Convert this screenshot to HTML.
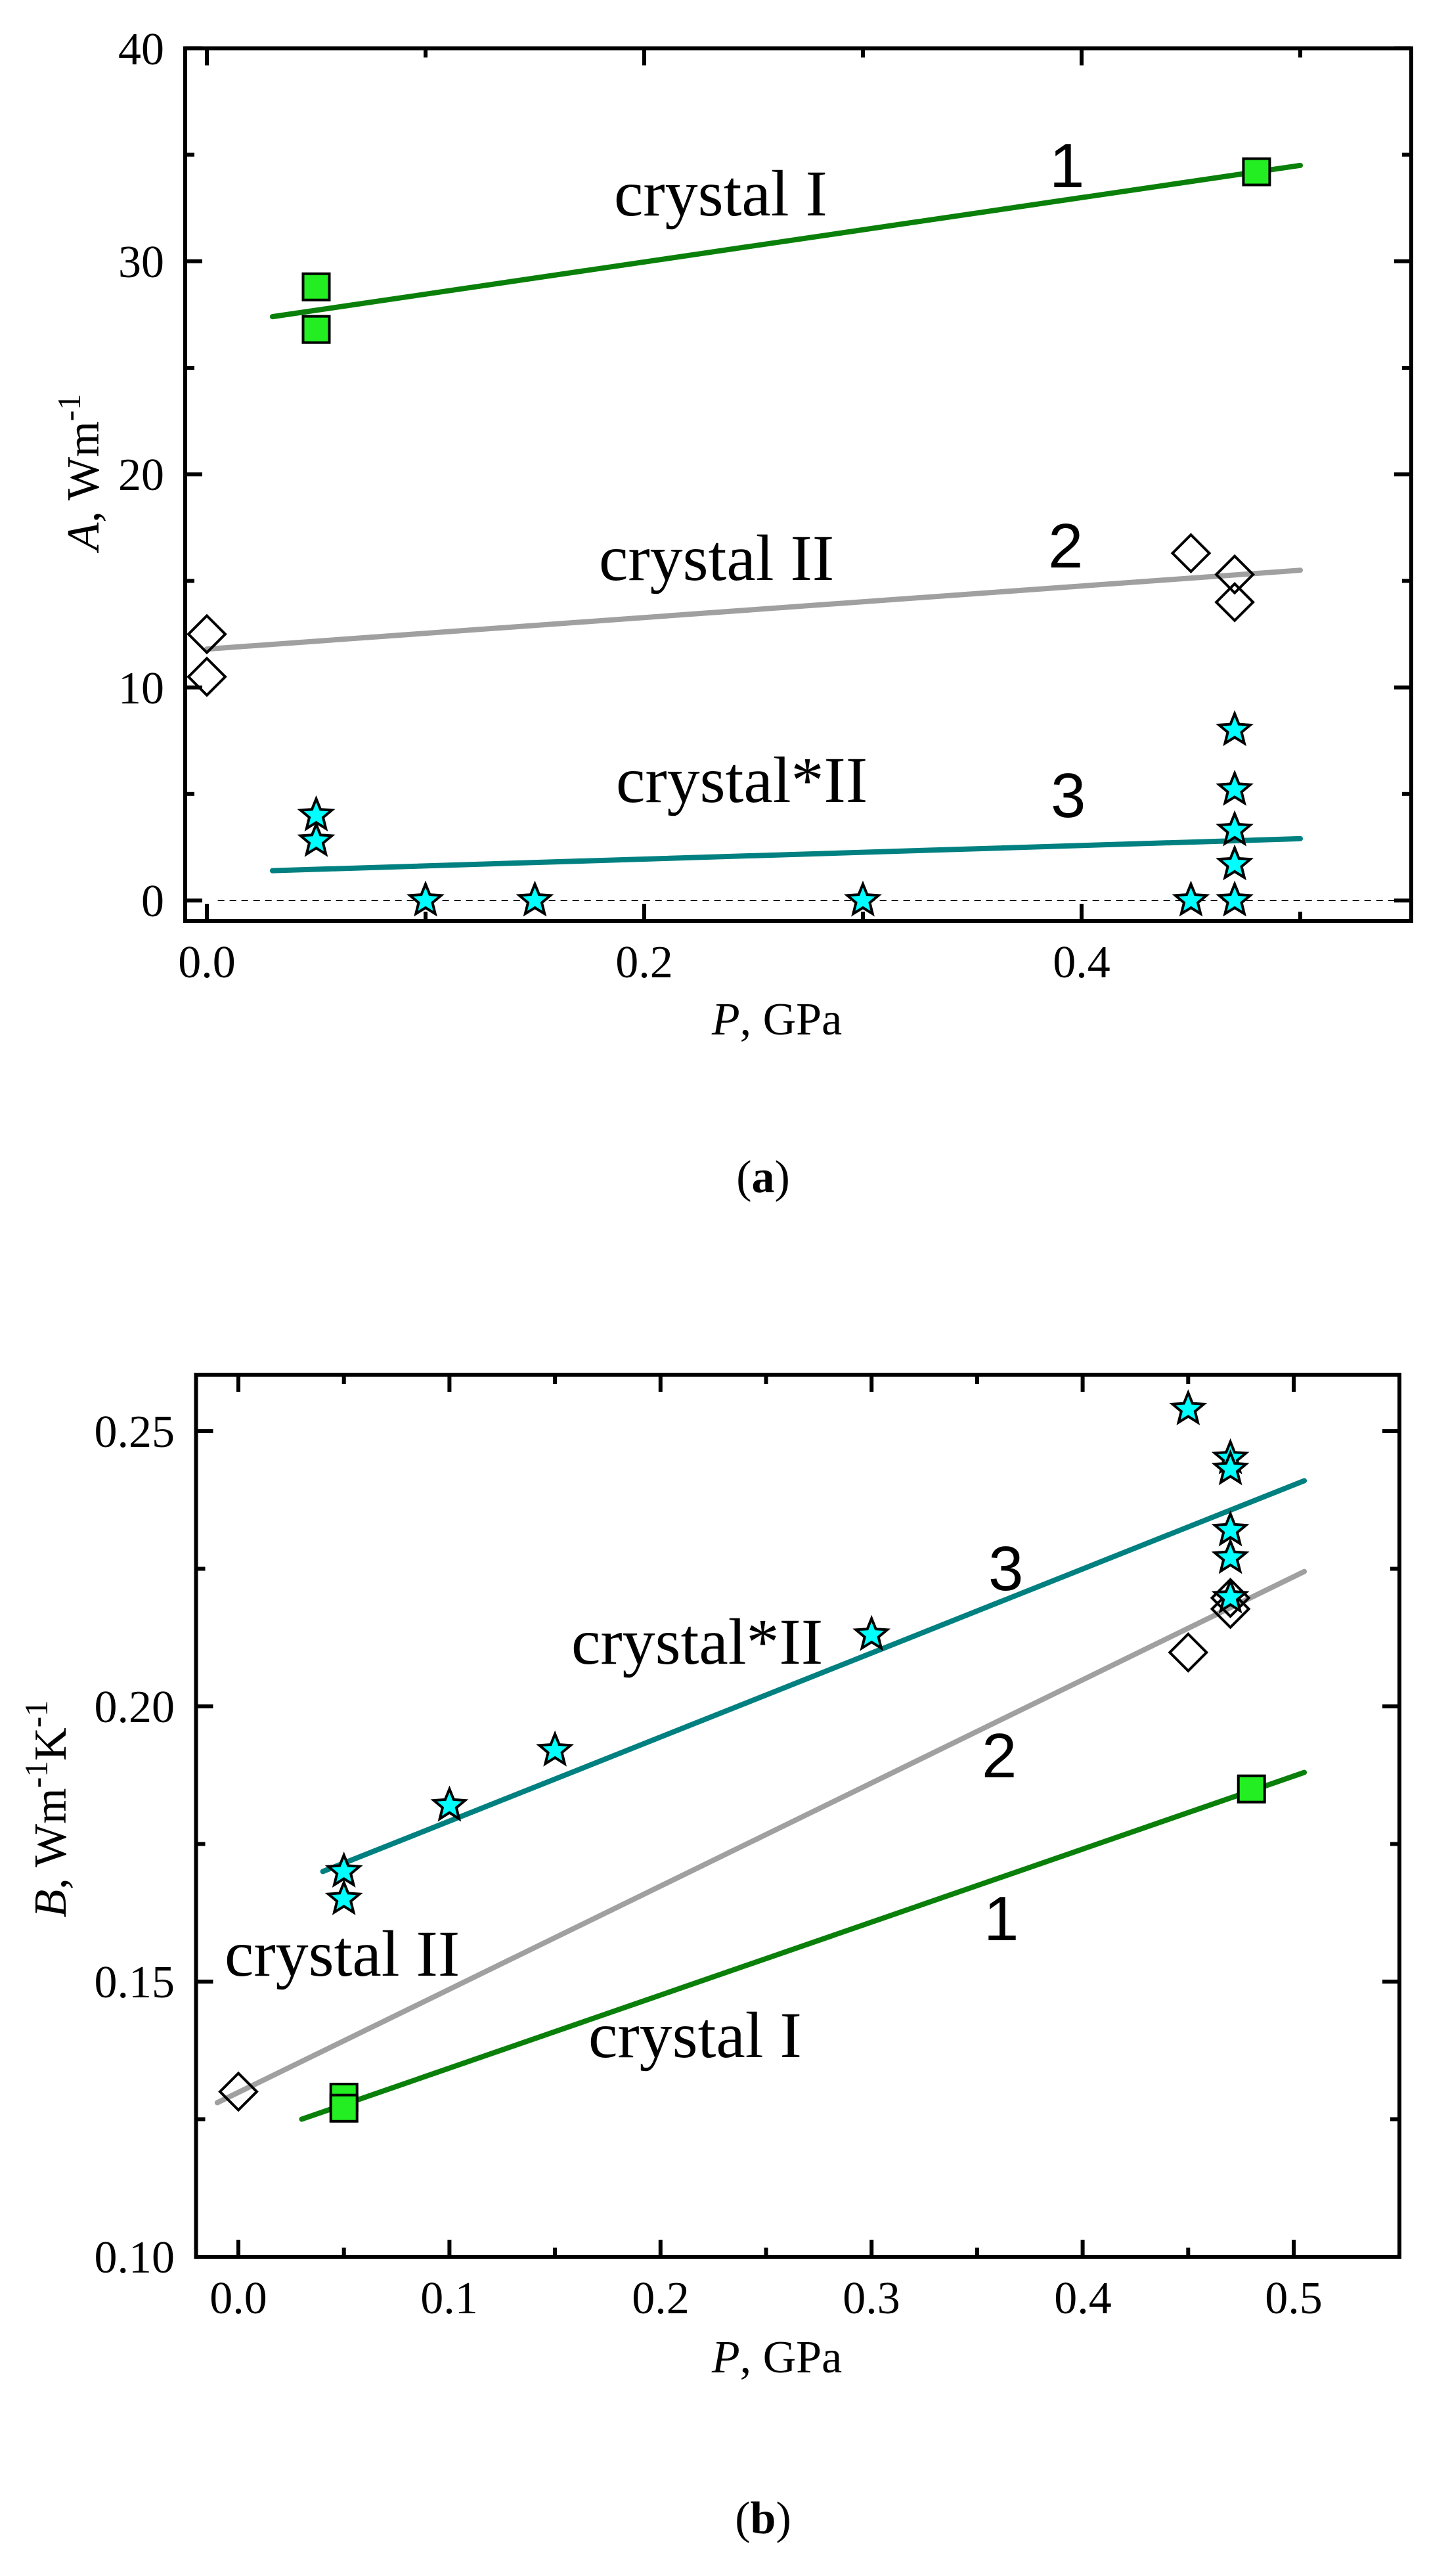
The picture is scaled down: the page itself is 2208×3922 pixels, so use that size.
<!DOCTYPE html>
<html><head><meta charset="utf-8"><style>
html,body{margin:0;padding:0;background:#fff}
svg{display:block}
text{font-family:"Liberation Serif",serif;fill:#000}
.t{font-size:70px}
.lab{font-size:100px}
.num{font-family:"Liberation Sans",sans-serif;font-size:96px}
</style></head><body>
<svg id="s" width="2208" height="3922" viewBox="0 0 2208 3922" xmlns="http://www.w3.org/2000/svg">
<g id="g"></g>
<!-- Panel a text -->
<g class="t" text-anchor="end">
<text x="250" y="1395">0</text>
<text x="250" y="1071">10</text>
<text x="250" y="746">20</text>
<text x="250" y="422">30</text>
<text x="250" y="98">40</text>
</g>
<g class="t" text-anchor="middle">
<text x="315" y="1488">0.0</text>
<text x="981" y="1488">0.2</text>
<text x="1647" y="1488">0.4</text>
</g>
<text class="t" x="1183" y="1575" text-anchor="middle"><tspan font-style="italic">P</tspan>, GPa</text>
<text class="t" transform="translate(150,719) rotate(-90)" text-anchor="middle"><tspan font-style="italic">A</tspan>, Wm<tspan dy="-28" font-size="50">-1</tspan></text>
<text class="t" x="1162" y="1815" text-anchor="middle">(<tspan font-weight="bold">a</tspan>)</text>
<text class="lab" x="935" y="328">crystal I</text>
<text class="lab" x="912" y="883">crystal II</text>
<text class="lab" x="938" y="1221">crystal*II</text>
<text class="num" x="1598" y="285">1</text>
<text class="num" x="1596" y="864">2</text>
<text class="num" x="1600" y="1244">3</text>
<!-- Panel b text -->
<g class="t" text-anchor="end">
<text x="266" y="3460">0.10</text>
<text x="266" y="3041">0.15</text>
<text x="266" y="2622">0.20</text>
<text x="266" y="2203">0.25</text>
</g>
<g class="t" text-anchor="middle">
<text x="363" y="3522">0.0</text>
<text x="684" y="3522">0.1</text>
<text x="1006" y="3522">0.2</text>
<text x="1327" y="3522">0.3</text>
<text x="1649" y="3522">0.4</text>
<text x="1970" y="3522">0.5</text>
</g>
<text class="t" x="1183" y="3612" text-anchor="middle"><tspan font-style="italic">P</tspan>, GPa</text>
<text class="t" transform="translate(100,2754) rotate(-90)" text-anchor="middle"><tspan font-style="italic">B</tspan>, Wm<tspan dy="-28" font-size="50">-1</tspan><tspan dy="28">K</tspan><tspan dy="-28" font-size="50">-1</tspan></text>
<text class="t" x="1162" y="3857" text-anchor="middle">(<tspan font-weight="bold">b</tspan>)</text>
<text class="lab" x="870" y="2533">crystal*II</text>
<text class="lab" x="342" y="3008">crystal II</text>
<text class="lab" x="896" y="3132">crystal I</text>
<text class="num" x="1505" y="2421">3</text>
<text class="num" x="1495" y="2706">2</text>
<text class="num" x="1498" y="2954">1</text>
</svg>
<script>
var NS="http://www.w3.org/2000/svg",G=document.getElementById("g");
function el(n,a){var e=document.createElementNS(NS,n);for(var k in a)e.setAttribute(k,a[k]);G.appendChild(e);return e;}
function line(x1,y1,x2,y2,c,w,extra){var a={x1:x1,y1:y1,x2:x2,y2:y2,stroke:c,"stroke-width":w,"stroke-linecap":"round"};for(var k in extra)a[k]=extra[k];return el("line",a);}
function sq(x,y){el("rect",{x:x-20,y:y-20,width:40,height:40,fill:"#22ee22",stroke:"#000","stroke-width":4});}
function dia(x,y){var r=28;el("polygon",{points:[x,y-r,x+r,y,x,y+r,x-r,y].join(" "),fill:"none",stroke:"#000","stroke-width":4});}
function star(x,y){var p=[],R=25,r=11;for(var i=0;i<10;i++){var a=-Math.PI/2+i*Math.PI/5,rr=i%2?r:R;p.push((x+rr*Math.cos(a)).toFixed(1)+","+(y+rr*Math.sin(a)).toFixed(1));}
 el("polygon",{points:p.join(" "),fill:"#00ffff",stroke:"#000","stroke-width":4,"stroke-linejoin":"miter"});}
function frame(L,T,R,B,xt,xm,yt,ym){
 el("rect",{x:L,y:T,width:R-L,height:B-T,fill:"none",stroke:"#000","stroke-width":6});
 xt.forEach(function(x){line(x,B,x,B-26,"#000",6,{"stroke-linecap":"butt"});line(x,T,x,T+26,"#000",6,{"stroke-linecap":"butt"});});
 xm.forEach(function(x){line(x,B,x,B-14,"#000",6,{"stroke-linecap":"butt"});line(x,T,x,T+14,"#000",6,{"stroke-linecap":"butt"});});
 yt.forEach(function(y){line(L,y,L+26,y,"#000",6,{"stroke-linecap":"butt"});line(R,y,R-26,y,"#000",6,{"stroke-linecap":"butt"});});
 ym.forEach(function(y){line(L,y,L+14,y,"#000",6,{"stroke-linecap":"butt"});line(R,y,R-14,y,"#000",6,{"stroke-linecap":"butt"});});
}
// Panel a
var ax=function(v){return 315+v*3330},ay=function(v){return 1371-v*32.44};
line(ax(0.005),ay(0),2146,ay(0),"#000",2,{"stroke-dasharray":"10,8","stroke-linecap":"butt"});
line(ax(0.03),ay(27.4),ax(0.5),ay(34.5),"#0a800a",8);
line(ax(0.0),ay(11.8),ax(0.5),ay(15.5),"#a0a0a0",8);
line(ax(0.03),ay(1.4),ax(0.5),ay(2.9),"#008080",8);
[[0.05,28.8],[0.05,26.8],[0.48,34.2]].forEach(function(p){sq(ax(p[0]),ay(p[1]))});
[[0,12.5],[0,10.5],[0.45,16.3],[0.47,15.3],[0.47,14.0]].forEach(function(p){dia(ax(p[0]),ay(p[1]))});
[[0.05,4.0],[0.05,2.8],[0.1,0],[0.15,0],[0.3,0],[0.45,0],[0.47,0],[0.47,1.7],[0.47,3.3],[0.47,5.2],[0.47,8.0]].forEach(function(p){star(ax(p[0]),ay(p[1]))});
frame(282,73.5,2149,1402,[0,0.2,0.4].map(ax),[0.1,0.3,0.5].map(ax),[0,10,20,30,40].map(ay),[5,15,25,35].map(ay));
// Panel b
var bx=function(v){return 363+v*3214},by=function(v){return 2179+(0.25-v)*8380};
line(bx(0.04),by(0.170),bx(0.505),by(0.241),"#008080",8);
line(bx(-0.01),by(0.128),bx(0.505),by(0.2245),"#a0a0a0",8);
line(bx(0.03),by(0.125),bx(0.505),by(0.188),"#0a800a",8);
[[0,0.130],[0.45,0.2098],[0.47,0.2197],[0.47,0.2177]].forEach(function(p){dia(bx(p[0]),by(p[1]))});
[[0.05,0.129],[0.05,0.127],[0.48,0.185]].forEach(function(p){sq(bx(p[0]),by(p[1]))});
[[0.05,0.170],[0.05,0.165],[0.1,0.182],[0.15,0.192],[0.3,0.213],[0.45,0.254],[0.47,0.2451],[0.47,0.2431],[0.47,0.232],[0.47,0.227],[0.47,0.2198]].forEach(function(p){star(bx(p[0]),by(p[1]))});
frame(298.5,2093,2131,3436,[0,0.1,0.2,0.3,0.4,0.5].map(bx),[0.05,0.15,0.25,0.35,0.45].map(bx),[0.10,0.15,0.20,0.25].map(by),[0.125,0.175,0.225].map(by));
</script>
</body></html>
